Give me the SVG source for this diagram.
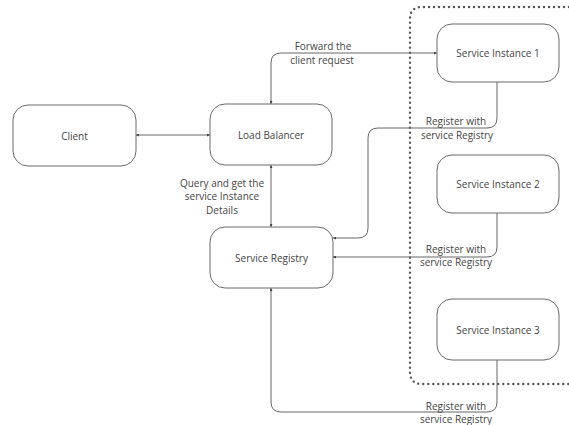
<svg xmlns="http://www.w3.org/2000/svg" width="569" height="425" viewBox="0 0 569 425">
<defs>
<style>
.node rect{fill:#fff;stroke:#6a6a6a;stroke-width:1}
.node text{font-family:"Open Sans","Liberation Sans",sans-serif;font-size:10px;fill:#444;text-anchor:middle;dominant-baseline:central}
.conn path{fill:none;stroke:#666;stroke-width:1}
.lbl{font-family:"Open Sans","Liberation Sans",sans-serif;font-size:10px;fill:#444;text-anchor:middle}
.group{fill:none;stroke:#555;stroke-width:2.4;stroke-dasharray:0 5;stroke-linecap:round}
</style>
<marker id="ah" viewBox="0 0 3 3" refX="3" refY="1.5" markerWidth="3" markerHeight="3" orient="auto-start-reverse" markerUnits="userSpaceOnUse">
<path d="M0,0 L3,1.5 L0,3 z" fill="#444"/>
</marker>
</defs>
<rect width="569" height="425" fill="#fff"/>
<path class="group" d="M569,7 H422 Q410,7 410,19 V372 Q410,384 422,384 H569"/>
<g class="conn">
<path d="M136,135 H210" marker-start="url(#ah)" marker-end="url(#ah)"/>
<path d="M271,104 V63 Q271,53 281,53 H437" marker-start="url(#ah)" marker-end="url(#ah)"/>
<path d="M271,165 V227" marker-start="url(#ah)" marker-end="url(#ah)"/>
<path d="M497,82 V118 Q497,128 487,128 H378 Q368,128 368,138 V228 Q368,238 358,238 H333" marker-end="url(#ah)"/>
<path d="M497,213 V247 Q497,257 487,257 H333" marker-end="url(#ah)"/>
<path d="M497,360 V402 Q497,412 487,412 H281 Q271,412 271,402 V288" marker-end="url(#ah)"/>
</g>
<g id="client" class="node"><rect x="13" y="105" width="123" height="61" rx="15"/><text x="74.5" y="135.5">Client</text></g>
<g id="load-balancer" class="node"><rect x="210" y="104" width="122" height="61" rx="15"/><text x="271" y="134.5">Load Balancer</text></g>
<g id="service-registry" class="node"><rect x="210" y="227" width="123" height="61" rx="15"/><text x="271.5" y="257.5">Service Registry</text></g>
<g id="service-instance-1" class="node"><rect x="437" y="24" width="122" height="58" rx="15"/><text x="498" y="53">Service Instance 1</text></g>
<g id="service-instance-2" class="node"><rect x="437" y="155" width="122" height="58" rx="15"/><text x="498" y="184">Service Instance 2</text></g>
<g id="service-instance-3" class="node"><rect x="437" y="299" width="122" height="61" rx="15"/><text x="498" y="329.5">Service Instance 3</text></g>
<g id="labels">
<text class="lbl" x="323" y="50">Forward the</text>
<text class="lbl" x="322" y="64">client request</text>
<text class="lbl" x="222" y="187">Query and get the</text>
<text class="lbl" x="222" y="200">service Instance</text>
<text class="lbl" x="222" y="214">Details</text>
<text class="lbl" x="456" y="125">Register with</text>
<text class="lbl" x="457" y="139">service Registry</text>
<text class="lbl" x="456" y="253">Register with</text>
<text class="lbl" x="456" y="266">service Registry</text>
<text class="lbl" x="456" y="410">Register with</text>
<text class="lbl" x="456" y="423">service Registry</text>
</g>
</svg>
